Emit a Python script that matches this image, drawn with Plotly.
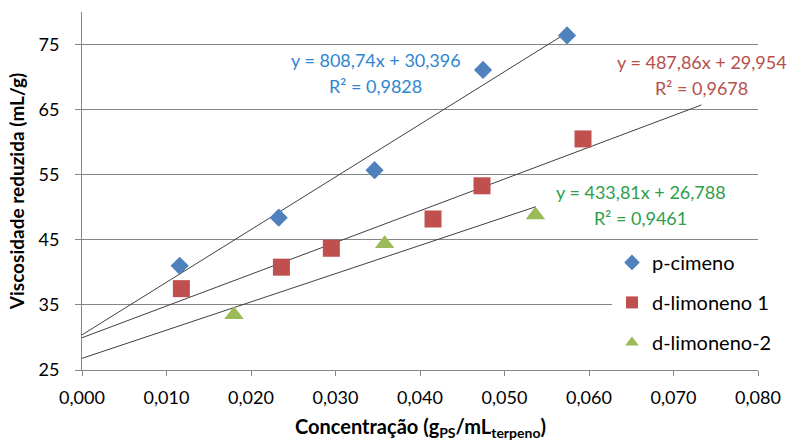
import plotly.graph_objects as go

# ---- data ----
pcimeno_x = [0.01156, 0.02328, 0.03462, 0.04746, 0.05740]
pcimeno_y = [41.0, 48.4, 55.7, 71.1, 76.4]

dlim1_x = [0.01176, 0.02360, 0.02951, 0.04154, 0.04734, 0.05929]
dlim1_y = [37.5, 40.8, 43.7, 48.2, 53.3, 60.5]

dlim2_x = [0.01799, 0.03582, 0.05366]
dlim2_y = [33.5, 44.4, 48.8]

series_names = ["p-cimeno", "d-limoneno 1", "d-limoneno-2"]
trend_slopes = [808.74, 487.86, 433.81]
trend_intercepts = [30.396, 29.954, 26.788]
trend_x_end = [0.0574, 0.0733, 0.0537]
trend_eq_labels = ["y = 808,74x + 30,396", "y = 487,86x + 29,954", "y = 433,81x + 26,788"]
trend_r2_labels = ["R² = 0,9828", "R² = 0,9678", "R² = 0,9461"]

x_tickvals = [0.0, 0.01, 0.02, 0.03, 0.04, 0.05, 0.06, 0.07, 0.08]
x_ticktext = ["0,000", "0,010", "0,020", "0,030", "0,040", "0,050", "0,060", "0,070", "0,080"]
y_tickvals = [25, 35, 45, 55, 65, 75]

x_title = "<b>Concentração (g<sub>PS</sub>/mL<sub>terpeno</sub>)</b>"
y_title = "<b>Viscosidade reduzida (mL/g)</b>"

FONT = "Lato"
marker_colors = ["#4F81BD", "#C0504D", "#9BBB59"]
label_colors = ["#2E86D1", "#B5504C", "#2E9E4A"]

fig = go.Figure()

# trendlines
for s, b, xe in zip(trend_slopes, trend_intercepts, trend_x_end):
    fig.add_trace(go.Scatter(
        x=[0.0, xe], y=[b, b + s * xe], mode="lines",
        line=dict(color="#404040", width=1), showlegend=False, hoverinfo="skip"))

xs = [pcimeno_x, dlim1_x, dlim2_x]
ys = [pcimeno_y, dlim1_y, dlim2_y]
symbols = ["diamond", "square", "triangle-up"]
sizes = [14, 17, 17]
for i in range(3):
    fig.add_trace(go.Scatter(
        x=xs[i], y=ys[i], mode="markers", name=series_names[i],
        legendgroup=series_names[i],
        marker=dict(symbol=symbols[i], size=sizes[i], color=marker_colors[i],
                    line=dict(width=0))))

# trendline equation labels (positions in data coords)
eq_pos = [(0.03474, 72.7, 68.6), (0.07334, 72.3, 68.3), (0.0661, 52.4, 48.4)]
for i, (ax, y1, y2) in enumerate(eq_pos):
    fig.add_annotation(x=ax, y=y1, xref="x", yref="y", text=trend_eq_labels[i],
                       showarrow=False, xanchor="center", yanchor="middle",
                       font=dict(family=FONT, size=18, color=label_colors[i]))
    fig.add_annotation(x=ax, y=y2, xref="x", yref="y", text=trend_r2_labels[i],
                       showarrow=False, xanchor="center", yanchor="middle",
                       font=dict(family=FONT, size=18, color=label_colors[i]))

# x-axis title placed just below the tick labels
fig.add_annotation(x=0.5, y=-0.162, xref="paper", yref="paper", text=x_title,
                   showarrow=False, xanchor="center", yanchor="middle",
                   font=dict(family=FONT, size=20, color="#000000"))

axis_col = "#868686"
fig.update_layout(
    width=795, height=443,
    margin=dict(l=82, r=37, t=12, b=73),
    paper_bgcolor="white", plot_bgcolor="white",
    font=dict(family=FONT, size=18, color="#000000"),
    xaxis=dict(range=[0, 0.08], tickvals=x_tickvals, ticktext=x_ticktext,
               showgrid=False, zeroline=False, showline=True, linecolor=axis_col,
               linewidth=1, ticks="outside", ticklen=5, tickcolor=axis_col,
               ticklabelstandoff=6, automargin=False,
               tickfont=dict(family=FONT, size=18, color="#000000")),
    yaxis=dict(range=[25, 80], tickvals=y_tickvals,
               showgrid=True, gridcolor=axis_col, gridwidth=1, zeroline=False,
               showline=True, linecolor=axis_col, linewidth=1,
               ticks="outside", ticklen=6, tickcolor=axis_col,
               ticklabelstandoff=12, automargin=False,
               tickfont=dict(family=FONT, size=18, color="#000000"),
               title=dict(text=y_title,
                          font=dict(family=FONT, size=19, color="#000000"), standoff=8)),
    legend=dict(x=0.784, y=0.355, xanchor="left", yanchor="top",
                bgcolor="white", borderwidth=0,
                font=dict(family=FONT, size=20, color="#000000"),
                traceorder="grouped", tracegroupgap=11,
                itemsizing="constant"),
)

fig.write_html("out.html", post_script="document.body.style.margin='0';",
               config={"displayModeBar": False})
